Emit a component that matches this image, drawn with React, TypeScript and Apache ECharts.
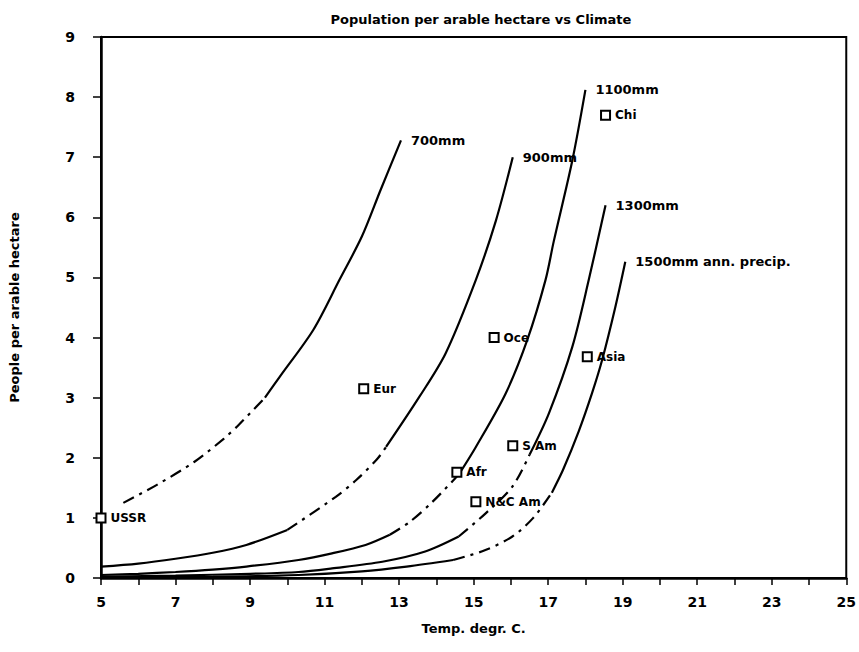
import React, { useEffect, useRef } from "react";
import * as echarts from "echarts";

// Precipitation curves: temperature (deg C) vs people per arable hectare
const curve700Temps = [5.6, 6.5, 7.5, 8.3, 8.7, 9.4, 9.8, 10.7, 11.4, 12.0, 12.5, 13.05];
const curve700Values = [1.25, 1.55, 1.93, 2.32, 2.55, 3.0, 3.35, 4.13, 4.96, 5.68, 6.45, 7.28];

const curve900Temps = [5, 6, 7, 8, 8.9, 10.0, 11.3, 11.85, 12.4, 12.65, 13.55, 14.25, 15.06, 15.6, 16.05];
const curve900Values = [0.19, 0.24, 0.32, 0.42, 0.55, 0.8, 1.35, 1.63, 1.97, 2.18, 3.02, 3.74, 4.96, 5.95, 7.0];

const curve1100Temps = [5, 6, 7, 8, 8.9, 10.3, 11.2, 12.1, 12.75, 13.3, 13.9, 14.6, 15.06, 15.86, 16.44, 16.93, 17.15, 17.65, 18.0];
const curve1100Values = [0.05, 0.07, 0.1, 0.14, 0.19, 0.3, 0.41, 0.55, 0.72, 0.94, 1.27, 1.72, 2.18, 3.07, 3.96, 4.96, 5.6, 6.95, 8.12];

const curve1300Temps = [5, 7, 9, 10.3, 11.2, 12.55, 13.7, 14.6, 15.33, 16.04, 16.5, 17.02, 17.65, 18.09, 18.54];
const curve1300Values = [0.02, 0.04, 0.07, 0.1, 0.16, 0.27, 0.44, 0.69, 1.08, 1.52, 2.05, 2.74, 3.85, 4.96, 6.2];

const curve1500Temps = [5, 8, 10.3, 12, 13.2, 14.45, 15.3, 16.04, 16.6, 17.1, 17.4, 17.82, 18.18, 18.45, 18.8, 19.07];
const curve1500Values = [0.01, 0.02, 0.05, 0.11, 0.19, 0.3, 0.46, 0.69, 1.0, 1.42, 1.8, 2.44, 3.08, 3.63, 4.5, 5.26];

// Regions
const regionNames = ["USSR", "Eur", "Afr", "N&C Am", "Oce", "S Am", "Asia", "Chi"];
const regionTemps = [5.0, 12.05, 14.55, 15.06, 15.55, 16.05, 18.05, 18.54];
const regionValues = [1.0, 3.15, 1.76, 1.27, 4.0, 2.2, 3.68, 7.7];

const xTickLabels = [5, 7, 9, 11, 13, 15, 17, 19, 21, 23, 25];

const FONT = "DejaVu Sans";

function curveSeries(
  label: string,
  temps: number[],
  values: number[],
  dashFrom: number,
  dashTo: number
): any[] {
  const pts = temps.map((t, i) => [t, values[i]]);
  const solid: any[] = [];
  let gapDone = false;
  pts.forEach((p) => {
    if (p[0] <= dashFrom || p[0] >= dashTo) {
      if (p[0] >= dashTo && !gapDone) {
        solid.push([(dashFrom + dashTo) / 2, null]);
        gapDone = true;
      }
      solid.push(p);
    }
  });
  let startIdx = 0;
  pts.forEach((p, i) => {
    if (p[0] <= dashFrom) startIdx = i;
  });
  let endIdx = pts.length - 1;
  for (let i = pts.length - 1; i >= 0; i--) {
    if (pts[i][0] >= dashTo) endIdx = i;
  }
  const dashed = pts.slice(startIdx, endIdx + 1);
  const common = {
    type: "line",
    smooth: 0.3,
    showSymbol: false,
    symbol: "none",
    silent: true,
    z: 2,
  };
  return [
    {
      ...common,
      name: label + " dashed",
      data: dashed,
      lineStyle: { color: "#000", width: 2.2, type: [12, 6, 3, 6] },
    },
    {
      ...common,
      name: label,
      data: solid,
      connectNulls: false,
      lineStyle: { color: "#000", width: 2.2, type: "solid" },
      endLabel: {
        show: true,
        formatter: label,
        distance: 10,
        color: "#000",
        fontFamily: FONT,
        fontWeight: "bold",
        fontSize: 13,
      },
    },
  ];
}

export default function App() {
  const ref = useRef<HTMLDivElement>(null);

  useEffect(() => {
    if (!ref.current) return;
    const chart = echarts.init(ref.current, undefined, { renderer: "svg" });

    const regionData = regionNames.map((n, i) => ({
      name: n,
      value: [regionTemps[i], regionValues[i]],
    }));

    const option: any = {
      animation: false,
      backgroundColor: "#fff",
      textStyle: { fontFamily: FONT },
      title: {
        text: "Population per arable hectare vs Climate",
        left: 476,
        top: 8,
        textAlign: "center",
        textStyle: {
          fontFamily: FONT,
          fontWeight: "bold",
          fontSize: 13,
          color: "#000",
        },
      },
      grid: {
        left: 101,
        right: 11,
        top: 37,
        bottom: 74,
        show: true,
        borderColor: "#000",
        borderWidth: 2,
        backgroundColor: "transparent",
      },
      xAxis: {
        type: "value",
        min: 5,
        max: 25,
        interval: 1,
        name: "Temp. degr. C.",
        nameLocation: "middle",
        nameGap: 44,
        nameTextStyle: {
          fontFamily: FONT,
          fontWeight: "bold",
          fontSize: 13,
          color: "#000",
        },
        axisLine: { show: true, lineStyle: { color: "#000", width: 2.5 } },
        axisTick: { show: true, inside: false, length: 7, lineStyle: { color: "#000", width: 1.5 } },
        axisLabel: {
          margin: 17,
          color: "#000",
          fontFamily: FONT,
          fontWeight: "bold",
          fontSize: 14,
          formatter: (v: number) => (xTickLabels.indexOf(v) >= 0 ? String(v) : ""),
        },
        splitLine: { show: false },
      },
      yAxis: {
        type: "value",
        min: 0,
        max: 9,
        interval: 1,
        name: "People per arable hectare",
        nameLocation: "middle",
        nameGap: 80,
        nameTextStyle: {
          fontFamily: FONT,
          fontWeight: "bold",
          fontSize: 13,
          color: "#000",
        },
        axisLine: { show: true, lineStyle: { color: "#000", width: 2.5 } },
        axisTick: { show: true, inside: false, length: 8, lineStyle: { color: "#000", width: 1.5 } },
        axisLabel: {
          margin: 26,
          color: "#000",
          fontFamily: FONT,
          fontWeight: "bold",
          fontSize: 14,
        },
        splitLine: { show: false },
      },
      series: [
        ...curveSeries("700mm", curve700Temps, curve700Values, 5.0, 9.4),
        ...curveSeries("900mm", curve900Temps, curve900Values, 10.0, 12.65),
        ...curveSeries("1100mm", curve1100Temps, curve1100Values, 12.75, 14.6),
        ...curveSeries("1300mm", curve1300Temps, curve1300Values, 14.6, 16.5),
        ...curveSeries("1500mm ann. precip.", curve1500Temps, curve1500Values, 14.45, 17.1),
        {
          type: "scatter",
          name: "Regions",
          data: regionData,
          symbol: "rect",
          symbolSize: 9,
          z: 5,
          itemStyle: { color: "#fff", borderColor: "#000", borderWidth: 2, opacity: 1 },
          label: {
            show: true,
            position: "right",
            distance: 4,
            formatter: (p: any) => p.name,
            color: "#000",
            opacity: 1,
            fontFamily: FONT,
            fontWeight: "bold",
            fontSize: 12,
          },
        },
      ],
    };

    chart.setOption(option);
    return () => chart.dispose();
  }, []);

  return (
    <div
      ref={ref}
      style={{ position: "fixed", left: 0, top: 0, width: 859, height: 652, background: "#fff" }}
    />
  );
}
